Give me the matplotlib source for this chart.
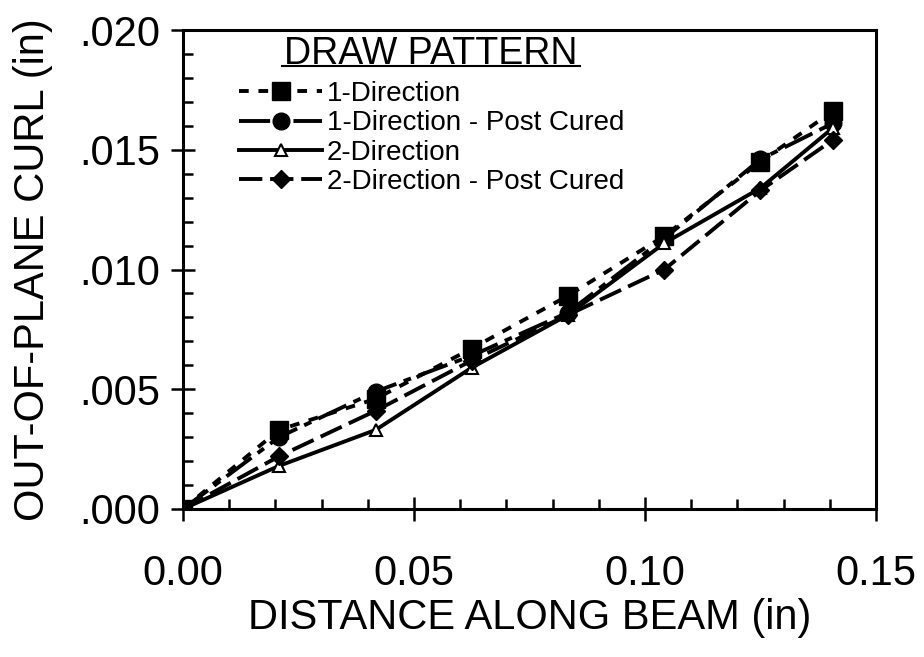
import matplotlib.pyplot as plt
from matplotlib.lines import Line2D
from matplotlib.ticker import MultipleLocator, FuncFormatter

plt.rcParams['font.family'] = ['Liberation Sans', 'DejaVu Sans']

# distance along the beam (in)
distance = [0.0, 0.0208, 0.0417, 0.0625, 0.0833, 0.1042, 0.125, 0.1406]

# out-of-plane curl (in) for each draw pattern
dir1 = [0.0, 0.0033, 0.0046, 0.0067, 0.0089, 0.0114, 0.0145, 0.0166]
dir1_post = [0.0, 0.0030, 0.0049, 0.0064, 0.0082, 0.0113, 0.0146, 0.0161]
dir2 = [0.0, 0.0018, 0.0033, 0.0059, 0.0081, 0.0111, 0.0134, 0.0159]
dir2_post = [0.0, 0.0022, 0.0041, 0.0062, 0.0081, 0.0100, 0.0133, 0.0154]

labels = ['1-Direction', '1-Direction - Post Cured',
          '2-Direction', '2-Direction - Post Cured']

fig = plt.figure(figsize=(9.24, 6.57), dpi=100)
ax = fig.add_axes([0.198, 0.2253, 0.750, 0.729])

lw = 2.8
ax.plot(distance, dir1, color='black', lw=lw, dashes=(2.5, 2.5),
        marker='s', ms=13, label=labels[0])
ax.plot(distance, dir1_post, color='black', lw=lw, dashes=(8, 2, 2, 2),
        marker='o', ms=12, label=labels[1])
ax.plot(distance, dir2, color='black', lw=lw, linestyle='-',
        marker='^', ms=8, mfc='white', mec='black', mew=1.5, label=labels[2])
ax.plot(distance, dir2_post, color='black', lw=lw, dashes=(6, 2),
        marker='D', ms=9, label=labels[3])

ax.set_xlim(0, 0.15)
ax.set_ylim(0, 0.020)
ax.xaxis.set_major_locator(MultipleLocator(0.05))
ax.xaxis.set_minor_locator(MultipleLocator(0.01))
ax.yaxis.set_major_locator(MultipleLocator(0.005))
ax.yaxis.set_minor_locator(MultipleLocator(0.001))
ax.xaxis.set_major_formatter(FuncFormatter(lambda v, p: f'{v:.2f}'))
ax.yaxis.set_major_formatter(FuncFormatter(lambda v, p: f'{v:.3f}'.lstrip('0')))

for s in ax.spines.values():
    s.set_linewidth(2.2)
ax.tick_params(which='major', direction='inout', length=17, width=1.8,
               labelsize=30, top=False, right=False)
ax.tick_params(axis='x', which='major', pad=24)
ax.tick_params(axis='y', which='major', pad=8)
ax.tick_params(which='minor', direction='in', length=7, width=1.8,
               top=False, right=False)

ax.set_xlabel('DISTANCE ALONG BEAM (in)', fontsize=30, labelpad=3)
ax.set_ylabel('OUT-OF-PLANE CURL (in)', fontsize=30, labelpad=19)

# legend title with an underline
ax.text(0.357, 0.988, 'DRAW PATTERN', transform=ax.transAxes,
        fontsize=27, ha='center', va='top')
ax.add_line(Line2D([0.143, 0.573], [0.925, 0.925], transform=ax.transAxes,
                   color='black', lw=1.5))

leg = ax.legend(loc='upper left', bbox_to_anchor=(0.065, 0.917),
                frameon=False, fontsize=20, handlelength=3.0,
                handletextpad=0.15, labelspacing=0.12, numpoints=1,
                borderaxespad=0)

fig.savefig('out.png', dpi=100)
